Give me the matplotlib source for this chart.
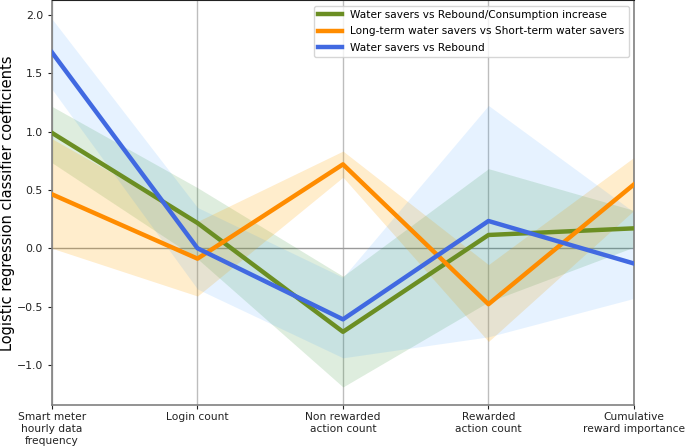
import numpy as np
import matplotlib.pyplot as plt

# feature axes of the parallel-coordinates style plot
features = [
    "Smart meter\nhourly data\nfrequency",
    "Login count",
    "Non rewarded\naction count",
    "Rewarded\naction count",
    "Cumulative\nreward importance",
]

# Water savers vs Rebound/Consumption increase
green_mean = [0.99, 0.217, -0.717, 0.114, 0.171]
green_low = [0.734, -0.09, -1.19, -0.46, 0.01]
green_high = [1.217, 0.52, -0.24, 0.683, 0.325]

# Long-term water savers vs Short-term water savers
orange_mean = [0.463, -0.089, 0.72, -0.48, 0.548]
orange_low = [0.0, -0.41, 0.61, -0.80, 0.325]
orange_high = [0.94, 0.23, 0.834, -0.14, 0.78]

# Water savers vs Rebound
blue_mean = [1.68, 0.0, -0.61, 0.234, -0.131]
blue_low = [1.365, -0.35, -0.94, -0.76, -0.43]
blue_high = [1.968, 0.35, -0.25, 1.225, 0.31]

series = [
    ("Water savers vs Rebound/Consumption increase", green_mean, green_low, green_high,
     "olivedrab", "forestgreen", 0.15),
    ("Long-term water savers vs Short-term water savers", orange_mean, orange_low, orange_high,
     "darkorange", "orange", 0.2),
    ("Water savers vs Rebound", blue_mean, blue_low, blue_high,
     "royalblue", "dodgerblue", 0.11),
]

fig = plt.figure(figsize=(6.85, 4.46), dpi=100)
ax = fig.add_axes([0.0759, 0.0919, 0.8496, 0.907])

x = np.arange(len(features))

for label, mean, low, high, lc, fc, alpha in series:
    ax.fill_between(x, low, high, color=fc, alpha=alpha, linewidth=0, zorder=1)

for label, mean, low, high, lc, fc, alpha in series:
    ax.plot(x, mean, color=lc, linewidth=3.2, label=label, zorder=3)

# vertical lines at every feature axis, plus the zero line
for xi in x:
    ax.axvline(xi, color="#bdbdbd", linewidth=1, zorder=0)
ax.axhline(0, color="#9a9a9a", linewidth=1, zorder=0)

ax.set_xlim(0, len(features) - 1)
ax.set_ylim(-1.345, 2.126)
ax.set_xticks(x)
ax.set_xticklabels(features, fontsize=7.7, linespacing=1.25)
ax.set_yticks([-1.0, -0.5, 0.0, 0.5, 1.0, 1.5, 2.0])
ax.tick_params(axis="y", labelsize=7.8, colors="#222222", length=3)
ax.tick_params(axis="x", colors="#222222", length=3, pad=2)
ax.set_ylabel("Logistic regression classifier coefficients", fontsize=10.5)
ax.yaxis.set_label_coords(-0.064, 0.5)

for side in ["left", "right", "bottom"]:
    ax.spines[side].set_color("#808080")
    ax.spines[side].set_linewidth(1.2)
ax.spines["top"].set_color("#222222")

ax.legend(loc="upper right", fontsize=7.55, handlelength=2.3, borderpad=0.4,
          labelspacing=0.6, bbox_to_anchor=(1.0, 1.0))

fig.savefig("out.png", dpi=100)
